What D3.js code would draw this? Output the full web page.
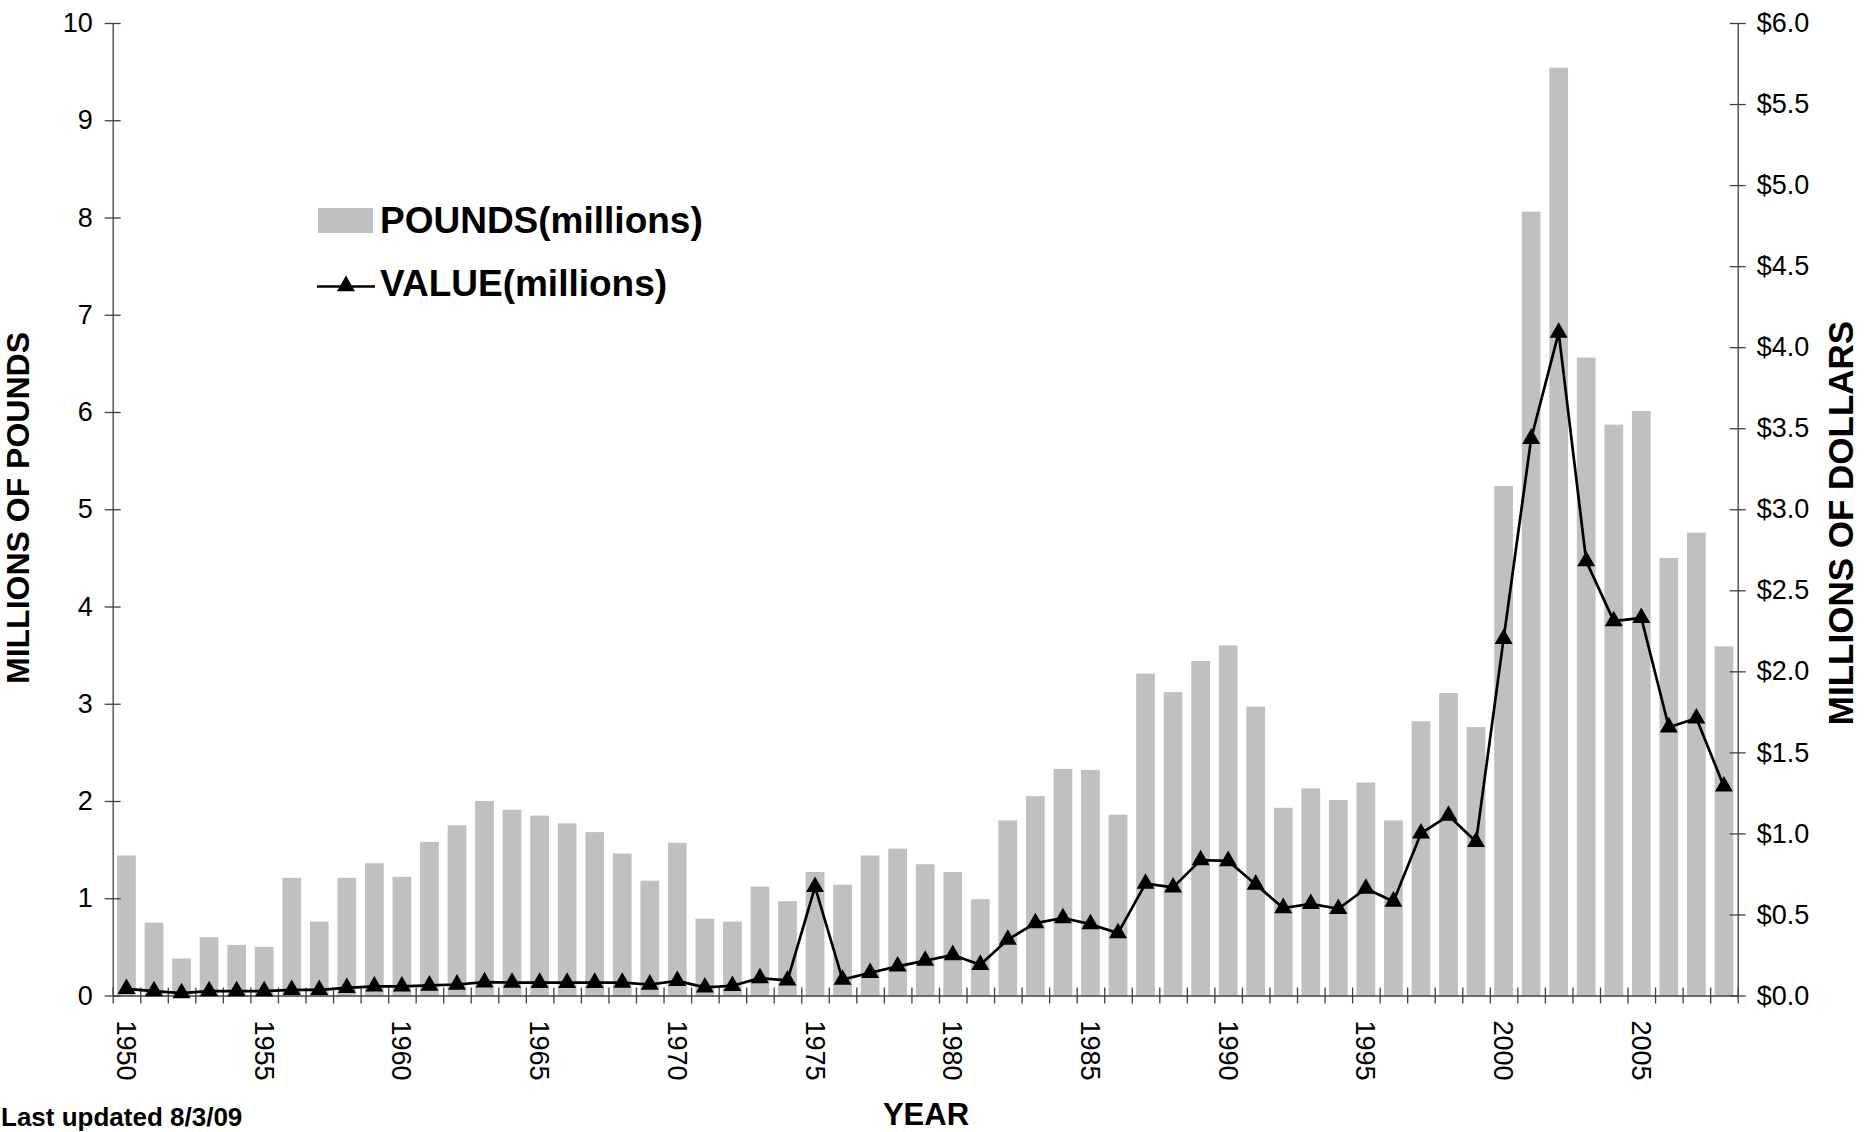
<!DOCTYPE html>
<html>
<head>
<meta charset="utf-8">
<script src="https://cdn.jsdelivr.net/npm/d3@7"></script>
<style>
    html, body { margin: 0; padding: 0; background: #fff; }
    svg { display: block; font-family: "Liberation Sans", Arial, sans-serif; }
    .axis path, .axis line { stroke: #404040; stroke-width: 1.3; }
    .axis text { fill: #000; font-size: 27px; }
</style>
</head>
<body>
<svg class="chart"></svg>
<script>
// годы (категории)
const years = [
    1950, 1951, 1952, 1953, 1954, 1955, 1956, 1957, 1958, 1959,
    1960, 1961, 1962, 1963, 1964, 1965, 1966, 1967, 1968, 1969,
    1970, 1971, 1972, 1973, 1974, 1975, 1976, 1977, 1978, 1979,
    1980, 1981, 1982, 1983, 1984, 1985, 1986, 1987, 1988, 1989,
    1990, 1991, 1992, 1993, 1994, 1995, 1996, 1997, 1998, 1999,
    2000, 2001, 2002, 2003, 2004, 2005, 2006, 2007, 2008
];

// POUNDS(millions)
const pounds = [
    1.44, 0.75, 0.38, 0.60, 0.52, 0.50, 1.21, 0.76, 1.21, 1.36,
    1.22, 1.58, 1.75, 2.00, 1.91, 1.85, 1.77, 1.68, 1.46, 1.18,
    1.57, 0.79, 0.76, 1.12, 0.97, 1.27, 1.14, 1.44, 1.51, 1.35,
    1.27, 0.99, 1.80, 2.05, 2.33, 2.32, 1.86, 3.31, 3.12, 3.44,
    3.60, 2.97, 1.93, 2.13, 2.01, 2.19, 1.80, 2.82, 3.11, 2.76,
    5.24, 8.06, 9.54, 6.56, 5.87, 6.01, 4.50, 4.76, 3.59
];

// VALUE(millions), $
const values = [
    0.041, 0.027, 0.015, 0.027, 0.027, 0.027, 0.035, 0.035, 0.047, 0.056,
    0.056, 0.062, 0.068, 0.082, 0.080, 0.079, 0.079, 0.079, 0.080, 0.068,
    0.090, 0.050, 0.060, 0.107, 0.093, 0.670, 0.098, 0.140, 0.180, 0.215,
    0.250, 0.190, 0.345, 0.447, 0.478, 0.440, 0.385, 0.690, 0.667, 0.835,
    0.830, 0.685, 0.540, 0.565, 0.535, 0.660, 0.580, 1.000, 1.110, 0.948,
    2.200, 3.435, 4.090, 2.680, 2.310, 2.330, 1.655, 1.710, 1.290
];

// подписи осей
const leftTicks = [0, 1, 2, 3, 4, 5, 6, 7, 8, 9, 10];
const rightTicks = [0, 0.5, 1, 1.5, 2, 2.5, 3, 3.5, 4, 4.5, 5, 5.5, 6];
const yearLabels = [1950, 1955, 1960, 1965, 1970, 1975, 1980, 1985, 1990, 1995, 2000, 2005];

const size = {width: 1864, height: 1132};
const plot = {left: 112.7, right: 1737.7, top: 23, bottom: 995.5};

const data = years.map((y, i) => ({year: y, pounds: pounds[i], value: values[i]}));

const svg = d3.select(".chart")
    .attr("width", size.width)
    .attr("height", size.height);

const x = d3.scaleBand()
    .domain(years)
    .range([plot.left, plot.right])
    .paddingInner(0.32)
    .paddingOuter(0.16);

// для засечек на границах категорий
const xEdge = d3.scaleLinear()
    .domain([0, years.length])
    .range([plot.left, plot.right]);

const yL = d3.scaleLinear().domain([0, 10]).range([plot.bottom, plot.top]);
const yR = d3.scaleLinear().domain([0, 6]).range([plot.bottom, plot.top]);

// столбцы
svg.append("g")
    .selectAll("rect")
    .data(data)
    .join("rect")
    .attr("x", d => x(d.year))
    .attr("y", d => yL(d.pounds))
    .attr("width", x.bandwidth())
    .attr("height", d => yL(0) - yL(d.pounds))
    .attr("fill", "#c0c0c0");

// левая ось
const leftAxis = svg.append("g")
    .attr("class", "axis")
    .attr("transform", `translate(${plot.left},0)`)
    .call(d3.axisLeft(yL).tickValues(leftTicks).tickFormat(d3.format("d"))
        .tickSizeInner(8).tickSizeOuter(0).tickPadding(12));
leftAxis.selectAll(".tick line").attr("x1", 8);

// правая ось
const rightAxis = svg.append("g")
    .attr("class", "axis")
    .attr("transform", `translate(${plot.right},0)`)
    .call(d3.axisRight(yR).tickValues(rightTicks).tickFormat(d => "$" + d.toFixed(1))
        .tickSizeInner(8).tickSizeOuter(0).tickPadding(11));
rightAxis.selectAll(".tick line").attr("x1", -8);

// ось X: засечки
const xAxis = svg.append("g")
    .attr("class", "axis")
    .attr("transform", `translate(0,${plot.bottom})`)
    .call(d3.axisBottom(xEdge).tickValues(d3.range(years.length + 1)).tickFormat("")
        .tickSizeInner(8).tickSizeOuter(0));
xAxis.selectAll(".tick line").attr("y1", -8);

// ось X: годы
svg.append("g")
    .attr("class", "axis")
    .attr("transform", `translate(0,${plot.bottom})`)
    .call(d3.axisBottom(x).tickValues(yearLabels).tickSize(0))
    .call(g => g.select(".domain").remove())
    .selectAll("text")
    .attr("transform", "rotate(90)")
    .attr("x", 25)
    .attr("y", 0)
    .attr("dy", "0.35em")
    .attr("text-anchor", "start");

// линия стоимости
const valueLine = d3.line()
    .x(d => x(d.year) + x.bandwidth() / 2)
    .y(d => yR(d.value));

svg.append("path")
    .datum(data)
    .attr("fill", "none")
    .attr("stroke", "#000")
    .attr("stroke-width", 2.7)
    .attr("stroke-linejoin", "round")
    .attr("d", valueLine);

const triangle = d3.symbol(d3.symbolTriangle).size(140);

svg.append("g")
    .selectAll("path")
    .data(data)
    .join("path")
    .attr("transform", d => `translate(${x(d.year) + x.bandwidth() / 2},${yR(d.value)})`)
    .attr("d", triangle)
    .attr("fill", "#000");

// легенда
const legend = svg.append("g").attr("font-weight", "bold").attr("font-size", 37);
legend.append("rect")
    .attr("x", 318).attr("y", 208).attr("width", 55).attr("height", 25)
    .attr("fill", "#c0c0c0");
legend.append("text").attr("x", 380).attr("y", 233).text("POUNDS(millions)");
legend.append("line")
    .attr("x1", 317).attr("x2", 375).attr("y1", 286.5).attr("y2", 286.5)
    .attr("stroke", "#000").attr("stroke-width", 2.7);
legend.append("path")
    .attr("transform", "translate(346,286)")
    .attr("d", triangle);
legend.append("text").attr("x", 380).attr("y", 296).text("VALUE(millions)");

// заголовки осей
svg.append("text")
    .attr("transform", "translate(29,508) rotate(-90)")
    .attr("text-anchor", "middle")
    .attr("font-weight", "bold")
    .attr("font-size", 32)
    .text("MILLIONS OF POUNDS");

svg.append("text")
    .attr("transform", "translate(1853,523) rotate(-90)")
    .attr("text-anchor", "middle")
    .attr("font-weight", "bold")
    .attr("font-size", 35)
    .text("MILLIONS OF DOLLARS");

svg.append("text")
    .attr("x", 926)
    .attr("y", 1125)
    .attr("text-anchor", "middle")
    .attr("font-weight", "bold")
    .attr("font-size", 31)
    .text("YEAR");

svg.append("text")
    .attr("x", 1)
    .attr("y", 1126)
    .attr("font-weight", "bold")
    .attr("font-size", 26)
    .text("Last updated 8/3/09");
</script>
</body>
</html>
